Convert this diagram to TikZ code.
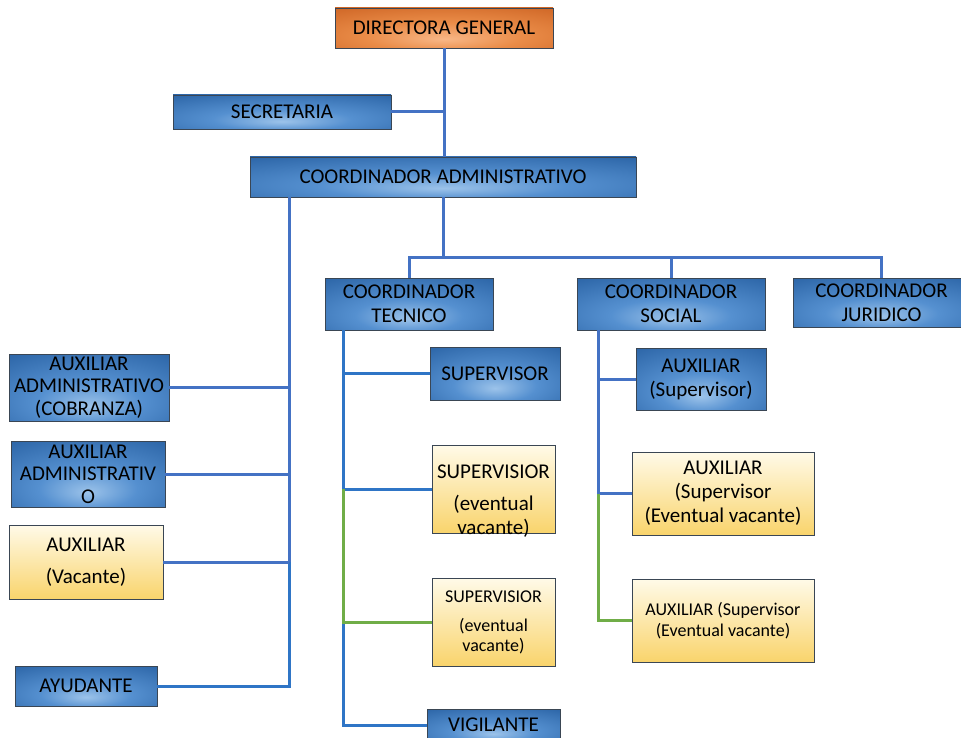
\documentclass[tikz,border=0pt]{standalone}
\usepackage{fontspec}
\setmainfont{Carlito}
\definecolor{bgA}{HTML}{9CC3EA}
\definecolor{bgB}{HTML}{5590D0}
\definecolor{bgC}{HTML}{2A63A5}
\definecolor{bgD}{HTML}{1C477B}
\definecolor{ogA}{HTML}{F8B787}
\definecolor{ogB}{HTML}{EA8C48}
\definecolor{ogC}{HTML}{CC6222}
\definecolor{ogD}{HTML}{A84C14}
\definecolor{ylA}{HTML}{FFFAE8}
\definecolor{ylB}{HTML}{F9D46C}
\definecolor{boxline}{HTML}{3A4654}
\definecolor{lnblue}{HTML}{4472C4}
\definecolor{lnblueb}{HTML}{2F75C6}
\definecolor{lngreen}{HTML}{70AD47}
\pgfdeclareradialshading{blueglow}{\pgfpoint{0bp}{-14bp}}{color(0bp)=(bgA); color(16bp)=(bgB); color(42bp)=(bgC); color(80bp)=(bgD)}
\pgfdeclareradialshading{orangeglow}{\pgfpoint{0bp}{-14bp}}{color(0bp)=(ogA); color(18bp)=(ogB); color(44bp)=(ogC); color(80bp)=(ogD)}
\tikzset{
  box/.style={draw=boxline, line width=0.8pt, inner sep=0pt, align=center,
    font=\fontsize{21}{24}\selectfont, text=black},
  bluebox/.style={box, shade, shading=blueglow},
  orbox/.style={box, shade, shading=orangeglow},
  yelbox/.style={box, top color=ylA, bottom color=ylB},
  txt/.style={inner sep=0pt, align=center, font=\fontsize{21}{24}\selectfont, text=black},
  conn/.style={draw=lnblue, line width=3pt},
  connb/.style={draw=lnblueb, line width=3pt},
  gconn/.style={draw=lngreen, line width=3pt, line join=miter},
}
\begin{document}
\begin{tikzpicture}[x=1pt,y=-1pt]
\useasboundingbox (0,0) rectangle (961,738);
% nodes
\node[orbox, minimum width=218, minimum height=40] (dir) at (444,28) {DIRECTORA GENERAL};
\node[bluebox, minimum width=218, minimum height=34] (sec) at (282,112) {SECRETARIA};
\node[bluebox, minimum width=386, minimum height=40] (adm) at (443,177) {COORDINADOR ADMINISTRATIVO};
\node[bluebox, minimum width=168, minimum height=52] (tec) at (409,304) {COORDINADOR\\TECNICO};
\node[bluebox, minimum width=188, minimum height=52] (soc) at (671,304) {COORDINADOR\\SOCIAL};
\node[bluebox, minimum width=177, minimum height=49] (jur) at (881.5,302.5) {COORDINADOR\\JURIDICO};
\node[bluebox, minimum width=160, minimum height=67, font=\fontsize{21}{22.5}\selectfont] (aac) at (89,387.5) {AUXILIAR\\ADMINISTRATIVO\\(COBRANZA)};
\node[bluebox, minimum width=154, minimum height=66, font=\fontsize{21}{22.5}\selectfont] (aa) at (88,474) {AUXILIAR\\ADMINISTRATIV\\O};
\node[yelbox, minimum width=154, minimum height=74] (av) at (86,562) {AUXILIAR\\[8pt](Vacante)};
\node[bluebox, minimum width=142, minimum height=40] (ay) at (86,686) {AYUDANTE};
\node[bluebox, minimum width=130, minimum height=53] (sup) at (495,373.5) {SUPERVISOR};
\node[yelbox, minimum width=123, minimum height=88] (se1) at (493.5,489) {};
\node[txt] (se1t) at (493.5,501) {SUPERVISIOR\\[8pt](eventual\\vacante)};
\node[yelbox, minimum width=123, minimum height=88, font=\fontsize{18}{20}\selectfont] (se2) at (493.5,622) {SUPERVISIOR\\[9pt](eventual\\vacante)};
\node[bluebox, minimum width=133, minimum height=32] (vig) at (493.5,725) {VIGILANTE};
\node[bluebox, minimum width=130, minimum height=62] (as) at (701,379) {AUXILIAR\\(Supervisor)};
\node[yelbox, minimum width=182, minimum height=83] (ase1) at (723,493.5) {AUXILIAR\\(Supervisor\\(Eventual vacante)};
\node[yelbox, minimum width=182, minimum height=83, font=\fontsize{18}{21}\selectfont] (ase2) at (723,620.5) {AUXILIAR (Supervisor\\(Eventual vacante)};
% connectors
\coordinate (bus) at (443,257);
\coordinate (lt) at (289,197);
\coordinate (tt) at (343,330);
\coordinate (st) at (598,330);
\draw[conn] (dir.south) -- (dir.south |- adm.north);
\draw[conn] (sec.east) -- (sec.east -| dir.south);
\draw[conn] (adm.south) -- (bus);
\draw[conn] (tec.north) |- (bus) -| (jur.north);
\draw[conn] (soc.north) -- (soc.north |- bus);
% left trunk
\draw[conn] (lt) -- (lt |- av.east);
\draw[connb] (lt |- av.east) |- (ay.east);
\draw[conn] (aac.east) -- (aac.east -| lt);
\draw[conn] (aa.east) -- (aa.east -| lt);
\draw[conn] (av.east) -- (av.east -| lt);
% tecnico
\draw[connb] (tt) -- (tt |- se1.west);
\draw[connb] (se2.west -| tt) |- (vig.west);
\draw[connb] (sup.west) -- (sup.west -| tt);
\draw[connb] (se1.west) -- (se1.west -| tt);
\draw[gconn] (se1.west -| tt) -- (se2.west -| tt) -- (se2.west);
% social
\draw[conn] (st) -- (st |- ase1.west);
\draw[conn] (as.west) -- (as.west -| st);
\draw[conn] (ase1.west) -- (ase1.west -| st);
\draw[gconn] (ase1.west -| st) -- (ase2.west -| st) -- (ase2.west);
\end{tikzpicture}
\end{document}
